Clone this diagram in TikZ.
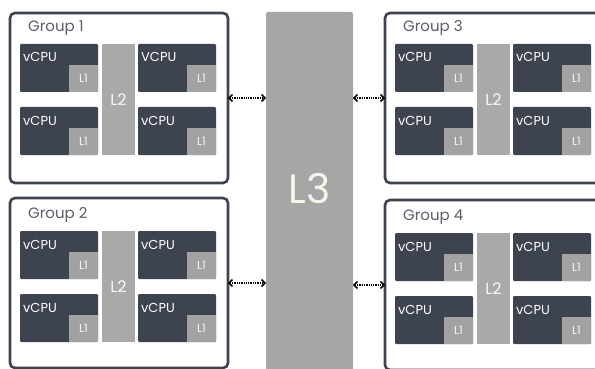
\documentclass[tikz,border=0pt]{standalone}
\usepackage{fontspec}
\setmainfont{Poppins}
\usetikzlibrary{arrows.meta}
\definecolor{slate}{HTML}{3E4350}
\definecolor{lone}{HTML}{A2A2A2}
\definecolor{ltwo}{HTML}{A9A9A9}
\definecolor{lthree}{HTML}{A6A6A6}
\definecolor{grptxt}{HTML}{5A5F69}
\definecolor{cream}{HTML}{F7F5EA}
\tikzset{
  grp/.style={draw=slate, line width=2.6pt, rounded corners=5pt, fill=white, inner sep=0pt, outer sep=0pt},
  grplabel/.style={text=grptxt, font=\fontsize{15}{17}\selectfont, inner sep=0pt},
  cpu/.style={fill=slate, rounded corners=1.2pt, minimum width=78pt, minimum height=48pt, inner sep=0pt, outer sep=0pt},
  cputxt/.style={text=white, font=\fontsize{13}{15}\selectfont, inner sep=0pt},
  lonebox/.style={fill=lone, minimum width=29pt, minimum height=27pt, inner sep=0pt, outer sep=0pt, text=white!92!lone, font=\fontsize{11.5}{13}\selectfont},
  ltwobox/.style={fill=ltwo, minimum width=33pt, minimum height=111pt, inner sep=0pt, outer sep=0pt, text=white!92!ltwo, font=\fontsize{16}{18}\selectfont},
  lthreebox/.style={fill=lthree, rounded corners=2pt, minimum width=87pt, minimum height=362pt, inner sep=0pt, outer sep=0pt},
  lthreetxt/.style={text=cream, font=\fontsize{41}{44}\selectfont, inner sep=0pt},
  link/.style={densely dotted, line width=1.3pt, black, {Straight Barb[length=3.4pt,width=7pt,line width=1.5pt]}-{Straight Barb[length=3.4pt,width=7pt,line width=1.5pt]}}
}
% #1 name, #2 ox, #3 oy, #4 label, #5 text of top-right cpu, #6 label baseline offset, #7 inner offset
\newcommand\cpugroup[7]{%
  \node[grp, minimum width=218pt, minimum height=170pt, anchor=north west] (#1) at (#2,#3) {};
  \node[grplabel, anchor=base west] (#1lab) at (#2+18,#3+#6) {#4};
  \node[cpu, anchor=north west] (#1a) at (#2+10,#3+#7) {};
  \node[cpu, anchor=north west] (#1b) at (#2+128,#3+#7) {};
  \node[cpu, anchor=north west] (#1c) at (#2+10,#3+#7+63) {};
  \node[cpu, anchor=north west] (#1d) at (#2+128,#3+#7+63) {};
  \node[ltwobox, anchor=north west] (#1L2) at (#2+92,#3+#7) {L2};
  \node[cputxt, anchor=base west] at ([xshift=3pt,yshift=-18pt]#1a.north west) {vCPU};
  \node[cputxt, anchor=base west] at ([xshift=3pt,yshift=-18pt]#1b.north west) {#5};
  \node[cputxt, anchor=base west] at ([xshift=3pt,yshift=-18pt]#1c.north west) {vCPU};
  \node[cputxt, anchor=base west] at ([xshift=3pt,yshift=-18pt]#1d.north west) {vCPU};
  \node[lonebox, anchor=south east] (#1aL) at (#1a.south east) {L1};
  \node[lonebox, anchor=south east] (#1bL) at (#1b.south east) {L1};
  \node[lonebox, anchor=south east] (#1cL) at (#1c.south east) {L1};
  \node[lonebox, anchor=south east] (#1dL) at (#1d.south east) {L1};
}
\begin{document}
\begin{tikzpicture}[x=1pt,y=-1pt]
  \useasboundingbox (0,0) rectangle (595,369);
  \clip (0,0) rectangle (595,369);
  \fill[white] (0,0) rectangle (595,369);
  \node[lthreebox, anchor=north west] (L3) at (266,12) {};
  \node[lthreetxt] (L3t) at ([yshift=5pt]L3.center) {L3};
  \cpugroup{ga}{10}{13}{Group 1}{VCPU}{19}{31}
  \cpugroup{gb}{10}{198}{Group 2}{vCPU}{20}{33}
  \cpugroup{gc}{385}{13}{Group 3}{vCPU}{19}{31}
  \cpugroup{gd}{385}{200}{Group 4}{vCPU}{20}{33}
  \draw[link] (ga.east) -- (ga.east -| L3.west);
  \draw[link] (gb.east) -- (gb.east -| L3.west);
  \draw[link] (gc.west -| L3.east) -- (gc.west);
  \draw[link] (gd.west -| L3.east) -- (gd.west);
\end{tikzpicture}
\end{document}
